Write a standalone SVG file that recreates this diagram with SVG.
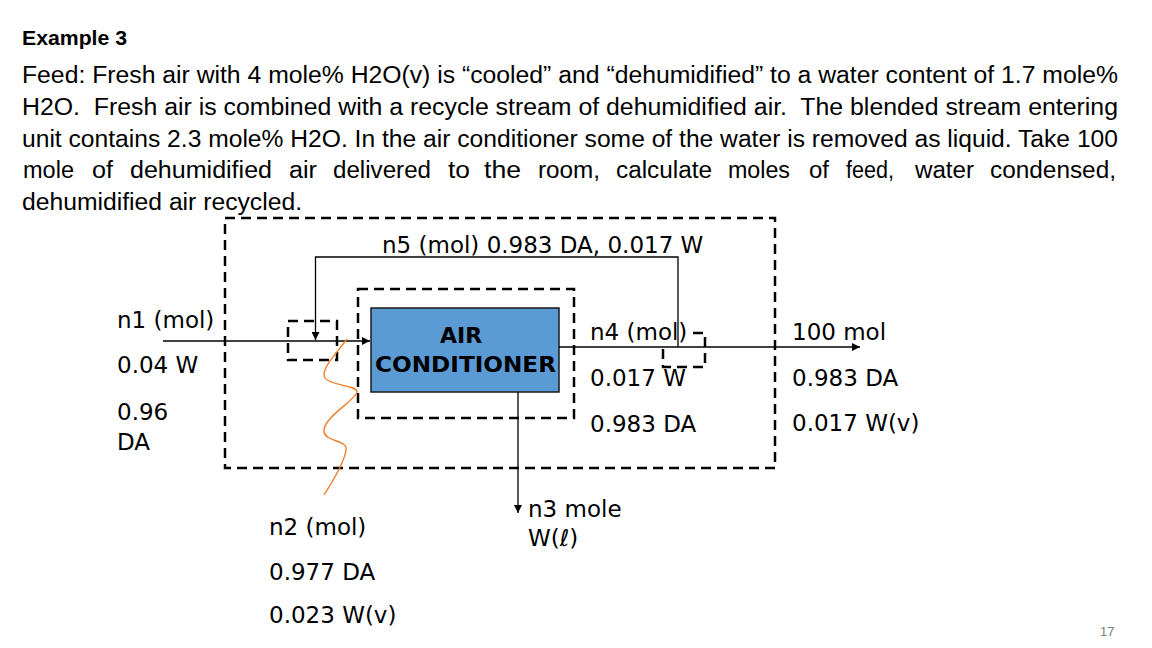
<svg xmlns="http://www.w3.org/2000/svg" width="1152" height="648" viewBox="0 0 1152 648">
<defs>
<style>
.para{font-family:"Liberation Sans",Arial,sans-serif;font-size:23px;fill:#000}
.hdr{font-family:"Liberation Sans",Arial,sans-serif;font-size:20px;font-weight:bold;fill:#000}
.lbl{font-family:"DejaVu Sans","Liberation Sans",sans-serif;font-size:23px;fill:#000}
.unit{font-family:"DejaVu Sans","Liberation Sans",sans-serif;font-size:22px;font-weight:bold;fill:#000}
.dash{fill:none;stroke:#000;stroke-width:2.5;stroke-dasharray:10 6}
.conn{fill:none;stroke:#000;stroke-width:1.3}
.pg{font-family:"Liberation Sans",Arial,sans-serif;font-size:13px;fill:#808080}
</style>
<marker id="arr" viewBox="0 0 10 10" refX="10" refY="5" markerWidth="9" markerHeight="8" markerUnits="userSpaceOnUse" orient="auto">
<path d="M0,0 L10,5 L0,10 z" fill="#000"/>
</marker>
</defs>
<rect width="1152" height="648" fill="#fff"/>

<g id="problem-text">
<text class="hdr" x="22" y="45" textLength="105" lengthAdjust="spacingAndGlyphs">Example 3</text>
<text class="para" x="22" y="83" textLength="1096" lengthAdjust="spacingAndGlyphs">Feed: Fresh air with 4 mole% H2O(v) is “cooled” and “dehumidified” to a water content of 1.7 mole%</text>
<text class="para" x="22" y="115" textLength="1096" lengthAdjust="spacingAndGlyphs" xml:space="preserve">H2O.  Fresh air is combined with a recycle stream of dehumidified air.  The blended stream entering</text>
<text class="para" x="22" y="147" textLength="1096" lengthAdjust="spacingAndGlyphs">unit contains 2.3 mole% H2O. In the air conditioner some of the water is removed as liquid. Take 100</text>
<text class="para" y="178" lengthAdjust="spacingAndGlyphs"><tspan x="23" textLength="51" lengthAdjust="spacingAndGlyphs">mole</tspan> <tspan x="92" textLength="21" lengthAdjust="spacingAndGlyphs">of</tspan> <tspan x="130" textLength="142" lengthAdjust="spacingAndGlyphs">dehumidified</tspan> <tspan x="289" textLength="28" lengthAdjust="spacingAndGlyphs">air</tspan> <tspan x="333" textLength="98" lengthAdjust="spacingAndGlyphs">delivered</tspan> <tspan x="448" textLength="22" lengthAdjust="spacingAndGlyphs">to</tspan> <tspan x="484" textLength="37" lengthAdjust="spacingAndGlyphs">the</tspan> <tspan x="538" textLength="62" lengthAdjust="spacingAndGlyphs">room,</tspan> <tspan x="616" textLength="96" lengthAdjust="spacingAndGlyphs">calculate</tspan> <tspan x="728" textLength="62" lengthAdjust="spacingAndGlyphs">moles</tspan> <tspan x="809" textLength="20" lengthAdjust="spacingAndGlyphs">of</tspan> <tspan x="846" textLength="48" lengthAdjust="spacingAndGlyphs">feed,</tspan> <tspan x="915" textLength="59" lengthAdjust="spacingAndGlyphs">water</tspan> <tspan x="990" textLength="126" lengthAdjust="spacingAndGlyphs">condensed,</tspan></text>
<text class="para" x="22" y="210" textLength="280" lengthAdjust="spacingAndGlyphs">dehumidified air recycled.</text>
</g>

<g id="outer-boundary">
<rect class="dash" x="225" y="218" width="550" height="250"/>
</g>
<g id="inner-boundary">
<rect class="dash" x="358" y="289" width="216" height="129"/>
</g>
<g id="mixer">
<rect class="dash" x="288" y="321" width="49" height="39"/>
</g>
<g id="splitter">
<path class="dash" d="M693,333 H705 V367 H663 V345"/>
</g>
<g id="air-conditioner">
<rect x="371" y="308" width="188" height="84" fill="#5B9BD5" stroke="#1a1a1a" stroke-width="1.5"/>
<text class="unit" x="461" y="343" text-anchor="middle">AIR</text>
<text class="unit" x="375" y="372" textLength="181" lengthAdjust="spacingAndGlyphs">CONDITIONER</text>
</g>

<g id="connectors">
<path class="conn" d="M163,341 H370" marker-end="url(#arr)"/>
<path class="conn" d="M678,347 V257 H315.5 V340" marker-end="url(#arr)"/>
<path class="conn" d="M559,347 H860" marker-end="url(#arr)"/>
<path class="conn" d="M518,392 V513" marker-end="url(#arr)"/>
<path d="M347,339 C335,355 320,370 325,378 C330,386 358,385 357,392 C356,400 322,418 324,432 C326,442 348,440 346,450 C344,465 330,485 324,495" fill="none" stroke="#F07F2A" stroke-width="1.4"/>
</g>

<g id="labels">
<text class="lbl" x="382" y="253">n5 (mol) 0.983 DA, 0.017 W</text>
<text class="lbl" x="117" y="328">n1 (mol)</text>
<text class="lbl" x="117" y="373">0.04 W</text>
<text class="lbl" x="117" y="420">0.96</text>
<text class="lbl" x="117" y="450">DA</text>
<text class="lbl" x="590" y="340">n4 (mol)</text>
<text class="lbl" x="590" y="386">0.017 W</text>
<text class="lbl" x="590" y="432">0.983 DA</text>
<text class="lbl" x="792" y="340">100 mol</text>
<text class="lbl" x="792" y="386">0.983 DA</text>
<text class="lbl" x="792" y="431">0.017 W(v)</text>
<text class="lbl" x="269" y="535">n2 (mol)</text>
<text class="lbl" x="269" y="580">0.977 DA</text>
<text class="lbl" x="269" y="623">0.023 W(v)</text>
<text class="lbl" x="528" y="517">n3 mole</text>
<text class="lbl" x="528" y="546">W(ℓ)</text>
</g>

<text class="pg" x="1100" y="636">17</text>
</svg>
